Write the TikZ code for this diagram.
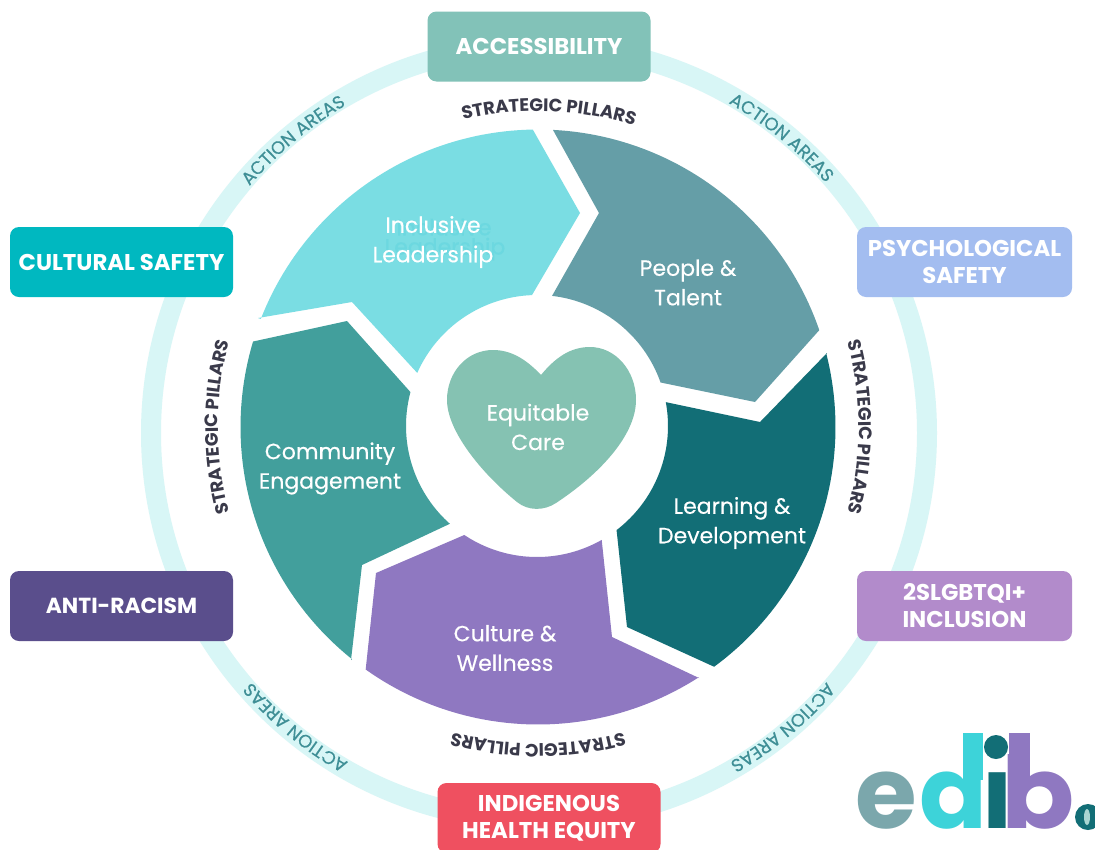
\documentclass[tikz,border=0pt]{standalone}
\usepackage{fontspec}
\setmainfont{Poppins}
\newfontfamily\pmed{Poppins}[FakeBold=0.35]
\usetikzlibrary{decorations.text}
\definecolor{ringc}{HTML}{D8F6F6}
\definecolor{actionc}{HTML}{3F8F96}
\definecolor{stratc}{HTML}{3A3A4A}
\definecolor{pinclusive}{HTML}{7ADDE3}
\definecolor{ghostc}{HTML}{6CD8E0}
\definecolor{ppeople}{HTML}{659EA7}
\definecolor{plearning}{HTML}{126E76}
\definecolor{pculture}{HTML}{8F78C1}
\definecolor{pcommunity}{HTML}{429F9C}
\definecolor{heartc}{HTML}{85C2B2}
\definecolor{baccess}{HTML}{82C2B8}
\definecolor{bcultural}{HTML}{00B8C0}
\definecolor{bpsych}{HTML}{A3BDF0}
\definecolor{blgbt}{HTML}{B28BCB}
\definecolor{banti}{HTML}{5A4E8C}
\definecolor{bindig}{HTML}{EF5060}
\definecolor{logoe}{HTML}{7BA7AC}
\definecolor{logod}{HTML}{3DD3D9}
\definecolor{logoi}{HTML}{126E76}
\definecolor{logob}{HTML}{8F78C1}
\definecolor{logopale}{HTML}{A9D6D2}
% arcs (angles grow clockwise on the page)
\def\oarc#1#2{-- plot[domain=#1:#2,samples=50] ({538+297.5*cos(\x)},{427+297.5*sin(\x)})}
\def\iarc#1#2{-- plot[domain=#1:#2,samples=40] ({537+131*cos(\x)},{426+131*sin(\x)})}
\newcommand{\bl}[1]{\raisebox{-1.5pt}{#1}}
\tikzset{
  petal/.style={draw=none},
  areabox/.style={rounded corners=9pt,minimum width=#1,minimum height=70pt,inner sep=0pt,
     text=white,align=center,font=\fontsize{22.8}{27}\selectfont\bfseries},
  areabox/.default=223pt,
  pillartext/.style={text=white,align=center,inner sep=0pt,font=\pmed\fontsize{22}{29.5}\selectfont},
  ghosttext/.style={text=ghostc,align=center,inner sep=0pt,font=\pmed\fontsize{22}{22}\selectfont},
  actiontext/.style={decorate,decoration={text along path,text align=center,
     text={|\pmed\fontsize{18}{18}\selectfont\color{actionc}|ACTION AREAS}}},
  strattext/.style={decorate,decoration={text along path,text align=center,
     text={|\fontsize{18}{18}\selectfont\bfseries\color{stratc}|STRATEGIC PILLARS}}},
  logoletter/.style={anchor=base west,inner sep=0pt,font=\fontsize{100}{100}\selectfont\bfseries},
}
\begin{document}
\begin{tikzpicture}[x=1pt,y=-1pt]
\clip (0,0) rectangle (1095,849);
\fill[white] (0,0) rectangle (1095,849);
% ring
\draw[ringc,line width=20pt] (539,433) ellipse [x radius=388pt,y radius=388pt];
% ring and pillar labels
\foreach \a in {230,-50.6,50.4,129.6}{
  \path[actiontext] plot[domain=\a-25:\a+25,samples=60] ({539+380.5*cos(\x)},{433+380.5*sin(\x)});
}
\path[strattext] plot[domain=-118:-58,samples=60] ({538+316*cos(\x)},{427+316*sin(\x)});
\path[strattext] plot[domain=-30:30,samples=60] ({538+321*cos(\x)},{427+321*sin(\x)});
\path[strattext] plot[domain=60:120,samples=60] ({538+317*cos(\x)},{427+317*sin(\x)});
\path[strattext] plot[domain=150:210,samples=60] ({538+320*cos(\x)},{427+320*sin(\x)});
% petals
\fill[pinclusive,petal] (258,318) \oarc{201.3}{269} -- (580,213) \iarc{267.8}{203.9} -- (352,302) -- cycle;
\fill[ppeople,petal] (553,130) \oarc{-87.1}{-19} -- (755,402) \iarc{-19.4}{-83.4} -- (599,213) -- cycle;
\fill[plearning,petal] (827,353) \oarc{-14.4}{53.7} -- (627,627) \iarc{52.6}{-10.5} -- (760,422) -- cycle;
\fill[pculture,petal] (699,678) \oarc{57.3}{125.4} -- (376,573) \iarc{123.7}{60.4} -- (612,637) -- cycle;
\fill[pcommunity,petal] (351,660) \oarc{128.7}{196.7} -- (347,321) \iarc{195}{131.7} -- (362,565) -- cycle;
% heart
\fill[heartc] (541,375) .. controls (525,358) and (510,350) .. (493,350)
  .. controls (467,350) and (447,372) .. (447,400)
  .. controls (447,430) and (480,472) .. (517,502)
  .. controls (528,511) and (544,511) .. (556,503)
  .. controls (600,474) and (636,435) .. (636,400)
  .. controls (636,370) and (615,347) .. (590,347)
  .. controls (570,347) and (555,358) .. (541,375) -- cycle;
% pillar texts
\node[ghosttext] (ghostone) at (444,227) {Inclusive};
\node[ghosttext] (ghosttwo) at (445,249) {Leadership};
\node[pillartext] (inclusive) at (433,242) {Inclusive\\Leadership};
\node[pillartext] (people) at (688,282.5) {People \&\\Talent};
\node[pillartext] (learning) at (732,523) {Learning \&\\Development};
\node[pillartext] (culture) at (505,648) {Culture \&\\Wellness};
\node[pillartext] (community) at (330,468.5) {Community\\Engagement};
\node[pillartext] (equitable) at (538,427) {Equitable\\Care};
% action area boxes
\node[areabox,fill=baccess] (access) at (539,46.5) {\bl{ACCESSIBILITY}};
\node[areabox,fill=bcultural] (cultural) at (121.5,262) {\bl{CULTURAL SAFETY}};
\node[areabox=215pt,fill=bpsych] (psych) at (964.5,262) {\bl{PSYCHOLOGICAL}\\\bl{SAFETY}};
\node[areabox=215pt,fill=blgbt] (lgbt) at (964.5,606) {\bl{2SLGBTQI+}\\\bl{INCLUSION}};
\node[areabox,fill=banti,font=\fontsize{21.8}{27}\selectfont\bfseries] (anti) at (121.5,606) {\bl{ANTI-RACISM}};
\node[areabox,fill=bindig] (indig) at (549,818) {\bl{INDIGENOUS}\\\bl{HEALTH EQUITY}};
% logo
\node[logoletter,text=logoe] (loge) at (855,828) {e};
\node[logoletter,text=logod] (logd) at (919,828) {d};
\fill[logod] (963,733) rectangle (983,780);
\node[logoletter,text=logoi] (logi) at (981,828) {ı};
\node[logoletter,text=logob,xscale=1.08] (logb) at (1001.5,828) {b};
\fill[logob] (1009,733) rectangle (1030,780);
\fill[logoi] (996,747) circle [radius=12pt];
\fill[logoi] (1088,817) circle [radius=13pt];
\fill[logopale] (1087,817) ellipse [x radius=3pt,y radius=8pt];
\end{tikzpicture}
\end{document}
